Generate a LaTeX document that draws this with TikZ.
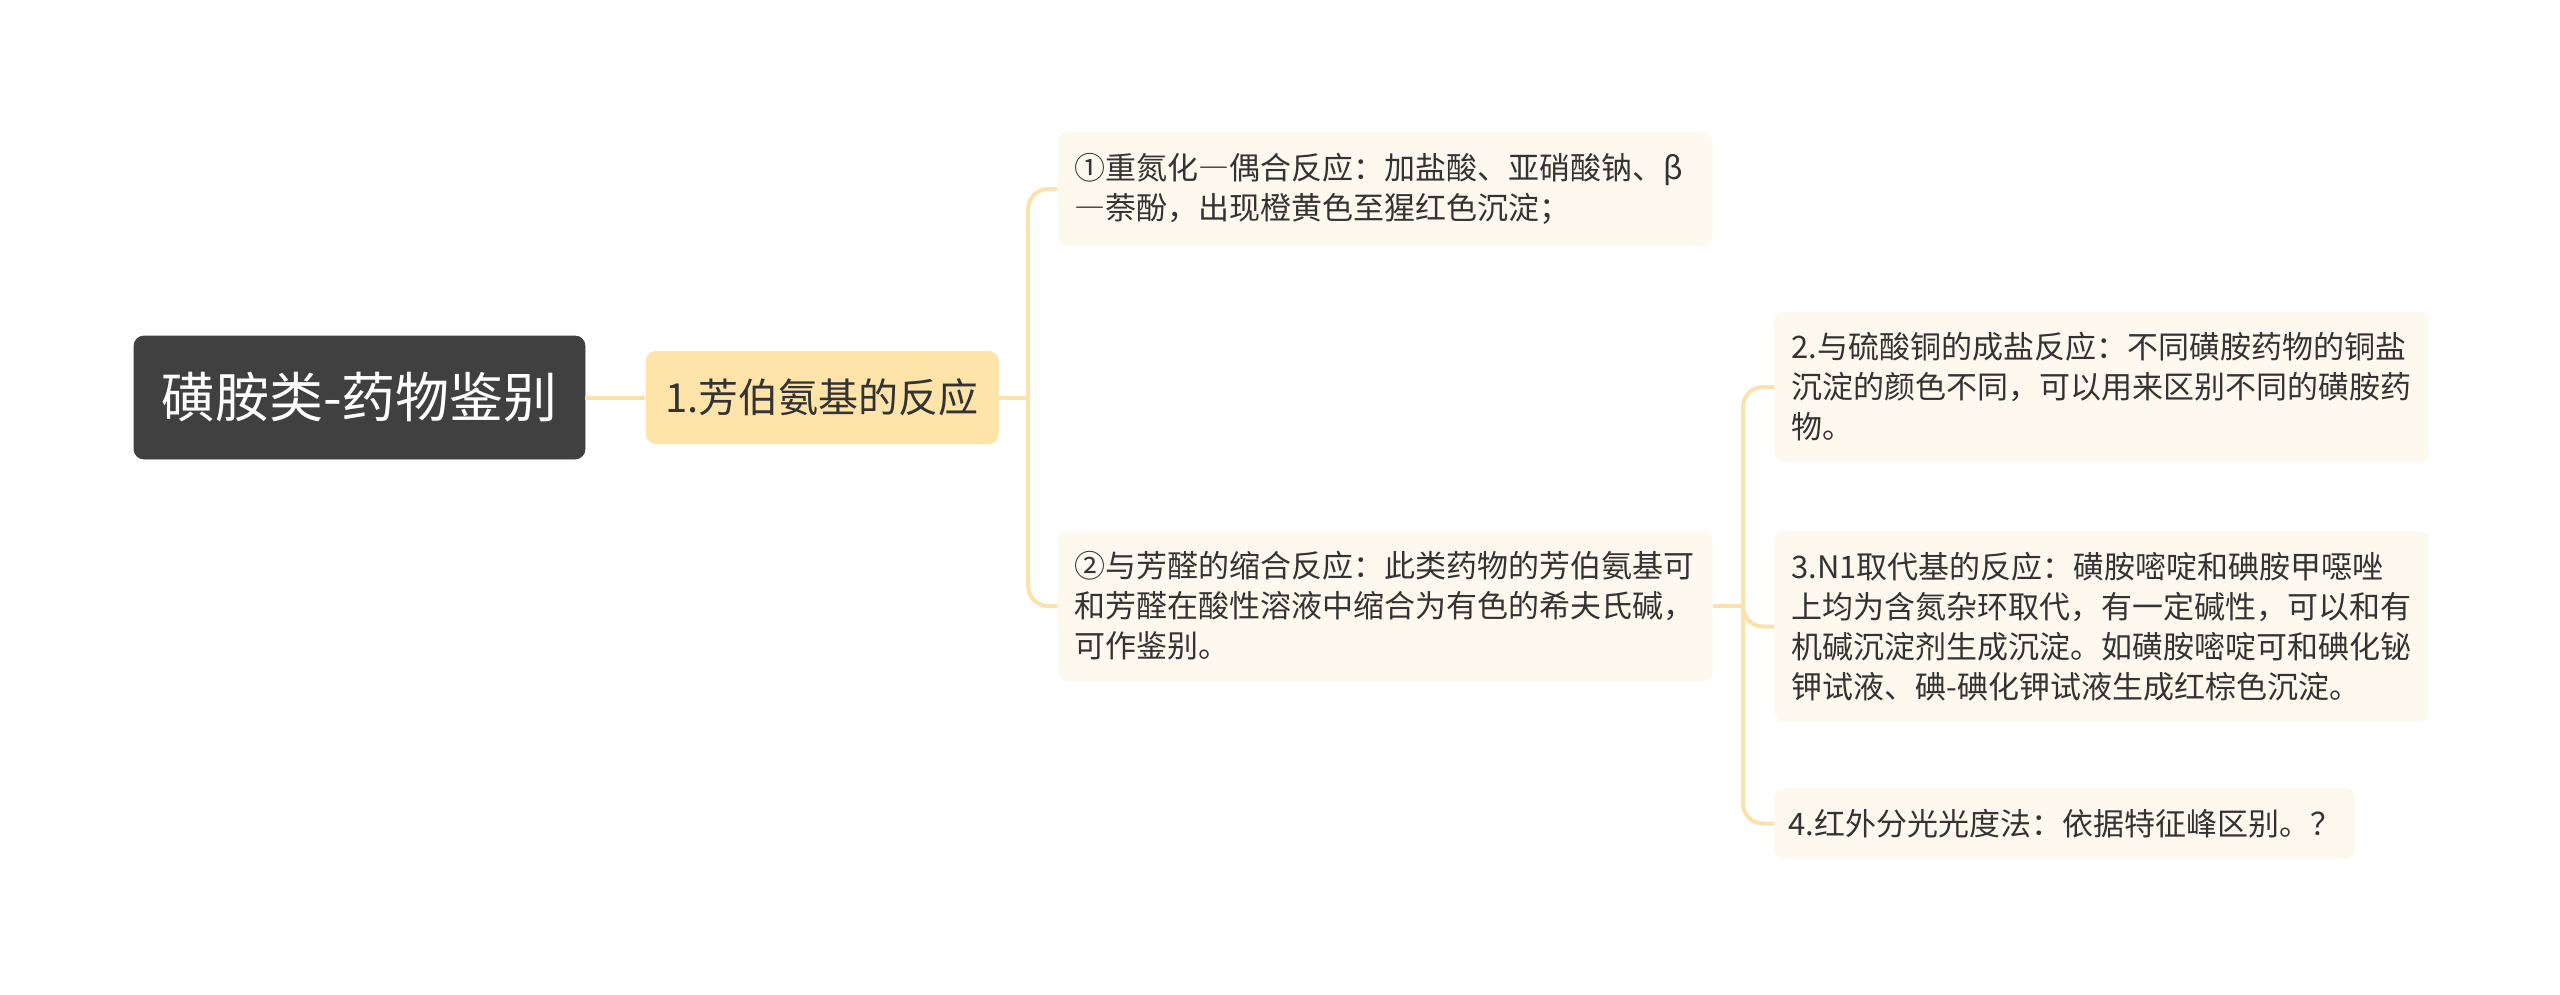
\documentclass[tikz,border=0pt]{standalone}
\usepackage{fontspec}
\setmainfont{Noto Sans CJK SC}
\usetikzlibrary{positioning}
\definecolor{rootgray}{HTML}{404040}
\definecolor{mainfill}{HTML}{FEE4A9}
\definecolor{leaffill}{HTML}{FEF9EE}
\definecolor{linkcol}{HTML}{FBE1AB}
\definecolor{textcol}{HTML}{333333}
\newcommand{\wdash}{{\addfontfeature{RawFeature=+fwid}—}}
\tikzset{basic/.style={rounded corners=5pt,inner xsep=8.5pt,text=textcol}}
\tikzset{topic/.style={basic,fill=rootgray,draw=black!75,text=white,minimum width=225.5pt,minimum height=61.5pt,font=\fontsize{27}{32}\selectfont}}
\tikzset{main/.style={basic,fill=mainfill,minimum width=176.5pt,minimum height=46.5pt,font=\fontsize{20}{24}\selectfont}}
\tikzset{leaf/.style={basic,fill=leaffill,inner ysep=10.5pt,align=left,font=\fontsize{15.5}{20}\selectfont}}
\tikzset{wide/.style={leaf,text width=310.5pt}}
\tikzset{link/.style={draw=linkcol,line width=2pt,rounded corners=10pt}}

\begin{document}
\begin{tikzpicture}[x=0.5pt,y=-0.5pt]
    \useasboundingbox (0,0) rectangle (2560,995);

    \node[topic] (root) at (359.5,397.5) {磺胺类-药物鉴别};
    \node[main,right=30pt of root] (reac) {1.芳伯氨基的反应};

    \node[wide,right=29pt of reac,yshift=104.25pt] (r1) {①重氮化\wdash 偶合反应：加盐酸、亚硝酸钠、β\\\wdash 萘酚，出现橙黄色至猩红色沉淀；};
    \node[wide,right=29pt of reac,yshift=-104.25pt] (r2) {②与芳醛的缩合反应：此类药物的芳伯氨基可\\和芳醛在酸性溶液中缩合为有色的希夫氏碱，\\可作鉴别。};

    \node[wide,right=30.5pt of r2,yshift=109.5pt] (s2) {2.与硫酸铜的成盐反应：不同磺胺药物的铜盐\\沉淀的颜色不同，可以用来区别不同的磺胺药\\物。};
    \node[wide,right=30.5pt of r2,yshift=-10.25pt] (s3) {3.N1取代基的反应：磺胺嘧啶和碘胺甲噁唑\\上均为含氮杂环取代，有一定碱性，可以和有\\机碱沉淀剂生成沉淀。如磺胺嘧啶可和碘化铋\\钾试液、碘-碘化钾试液生成红棕色沉淀。};
    \node[leaf,right=30.5pt of r2,yshift=-108.75pt,inner xsep=7pt] (s4) {4.红外分光光度法：依据特征峰区别。？};

    \coordinate[right=14.5pt of reac.east] (j1);
    \coordinate[right=15pt of r2.east] (j2);

        \path[link] (root) -- (reac);
        \path[link] (reac) -- (j1);
        \path[link] (j1) |- (r1.west);
        \path[link] (j1) |- (r2.west);
        \path[link] (r2) -- (j2);
        \path[link] (j2) |- (s2.west);
        \path[link] (j2) |- (s3.west);
        \path[link] (j2) |- (s4.west);
\end{tikzpicture}
\end{document}
